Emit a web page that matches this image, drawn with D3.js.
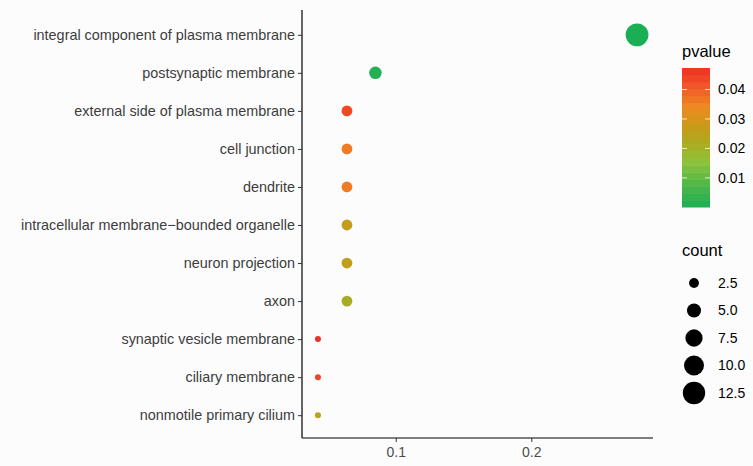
<!DOCTYPE html>
<html>
<head>
<meta charset="utf-8">
<script src="https://cdn.jsdelivr.net/npm/d3@7"></script>
<style>
  body { margin: 0; background: #fcfcfc; }
  svg { font-family: "Liberation Sans", Arial, sans-serif; }
</style>
</head>
<body>
<div id="chart"></div>
<script>
// GO terms, top to bottom
const terms = [
  'integral component of plasma membrane',
  'postsynaptic membrane',
  'external side of plasma membrane',
  'cell junction',
  'dendrite',
  'intracellular membrane\u2212bounded organelle',
  'neuron projection',
  'axon',
  'synaptic vesicle membrane',
  'ciliary membrane',
  'nonmotile primary cilium'
];
const ratio = [0.278, 0.085, 0.064, 0.064, 0.064, 0.064, 0.064, 0.064, 0.0426, 0.0426, 0.0426];
const counts = [13, 4, 3, 3, 3, 3, 3, 3, 1, 1, 1];
const pvalues = [0.0001, 0.0015, 0.0435, 0.036, 0.036, 0.027, 0.026, 0.021, 0.0473, 0.044, 0.025];
const xTicks = [0.1, 0.2];
const pTicks = [0.01, 0.02, 0.03, 0.04];
const countTicks = [2.5, 5.0, 7.5, 10.0, 12.5];

// colour ramp, low -> high p (fractions of the p range)
const rampStops = [0, 0.2, 0.33, 0.45, 0.58, 0.72, 0.86, 1];
const rampColors = ['#1aaf54', '#5cb944', '#8ec23a', '#a9ac20', '#c79a1a', '#ee8a22', '#f05a28', '#ee3124'];

const W = 753, H = 466;
const M = { top: 12, right: 100, bottom: 28, left: 302 };

const svg = d3.select('#chart').append('svg')
  .attr('width', W).attr('height', H);
svg.append('rect').attr('width', W).attr('height', H).attr('fill', '#fcfcfc');

// x: 5% expansion like ggplot
const xMin = d3.min(ratio), xMax = d3.max(ratio);
const pad = (xMax - xMin) * 0.05;
const x = d3.scaleLinear().domain([xMin - pad, xMax + pad]).range([M.left, W - M.right]);

const y = d3.scalePoint().domain(terms).range([M.top, H - M.bottom]).padding(0.6);

const pMin = d3.min(pvalues), pMax = d3.max(pvalues);
const color = d3.scaleLinear()
  .domain(rampStops.map(t => pMin + t * (pMax - pMin)))
  .range(rampColors);

const cMin = d3.min(counts), cMax = d3.max(counts);
function radius(c) {
  // area linear between min and max radius
  const rMin = 3, rMax = 11.4;
  const t = (c - cMin) / (cMax - cMin);
  return Math.sqrt(rMin * rMin + t * (rMax * rMax - rMin * rMin));
}

// axes
const xAxis = d3.axisBottom(x).tickValues(xTicks).tickSize(4).tickFormat(d3.format('.1f'));
const gx = svg.append('g').attr('transform', `translate(0,${H - M.bottom})`).call(xAxis);
gx.select('.domain').attr('stroke', '#000').attr('stroke-width', 1.2)
  .attr('d', `M${M.left},0H${W - M.right}`);
gx.selectAll('.tick line').attr('stroke', '#333');
gx.selectAll('.tick text').attr('fill', '#4d4d4d').attr('font-size', 14).attr('dy', '0.85em');

const yAxis = d3.axisLeft(y).tickSize(4).tickPadding(3);
const gy = svg.append('g').attr('transform', `translate(${M.left},0)`).call(yAxis);
gy.select('.domain').attr('stroke', '#000').attr('stroke-width', 1.2)
  .attr('d', `M0,${M.top - 2}V${H - M.bottom}`);
gy.selectAll('.tick line').attr('stroke', '#333');
gy.selectAll('.tick text').attr('fill', '#3d3d3d').attr('font-size', 14.4);

// points
svg.append('g').selectAll('circle')
  .data(terms)
  .join('circle')
  .attr('cx', (d, i) => x(ratio[i]))
  .attr('cy', d => y(d))
  .attr('r', (d, i) => radius(counts[i]))
  .attr('fill', (d, i) => color(pvalues[i]));

// ===== LEGENDS =====
const lx = 682;
svg.append('text').attr('x', lx).attr('y', 57).text('pvalue')
  .attr('font-size', 16.5).attr('fill', '#000');

const barTop = 68, barBot = 207, barW = 28;
const pb = d3.scaleLinear().domain([pMin, pMax]).range([barBot, barTop]);
const nbin = 20;
const bins = d3.range(nbin);
svg.append('g').selectAll('rect')
  .data(bins)
  .join('rect')
  .attr('x', lx)
  .attr('y', d => barBot - (d + 1) * (barBot - barTop) / nbin)
  .attr('width', barW)
  .attr('height', (barBot - barTop) / nbin + 0.5)
  .attr('fill', d => color(pMin + (d + 0.5) / nbin * (pMax - pMin)));

const pt = svg.append('g');
pTicks.forEach(v => {
  const yy = pb(v);
  pt.append('line').attr('x1', lx).attr('x2', lx + 5).attr('y1', yy).attr('y2', yy)
    .attr('stroke', '#fff').attr('stroke-width', 0.8);
  pt.append('line').attr('x1', lx + barW - 5).attr('x2', lx + barW).attr('y1', yy).attr('y2', yy)
    .attr('stroke', '#fff').attr('stroke-width', 0.8);
  pt.append('text').attr('x', lx + barW + 8).attr('y', yy).attr('dy', '0.35em')
    .attr('font-size', 14).attr('fill', '#000').text(d3.format('.2f')(v));
});

svg.append('text').attr('x', lx).attr('y', 256).text('count')
  .attr('font-size', 16.5).attr('fill', '#000');

const cy0 = 283, cStep = 27.5;
countTicks.forEach((c, i) => {
  const yy = cy0 + i * cStep;
  svg.append('circle').attr('cx', lx + 12).attr('cy', yy).attr('r', radius(c)).attr('fill', '#000');
  svg.append('text').attr('x', lx + barW + 8).attr('y', yy).attr('dy', '0.35em')
    .attr('font-size', 14).attr('fill', '#000').text(d3.format('.1f')(c));
});
</script>
</body>
</html>
